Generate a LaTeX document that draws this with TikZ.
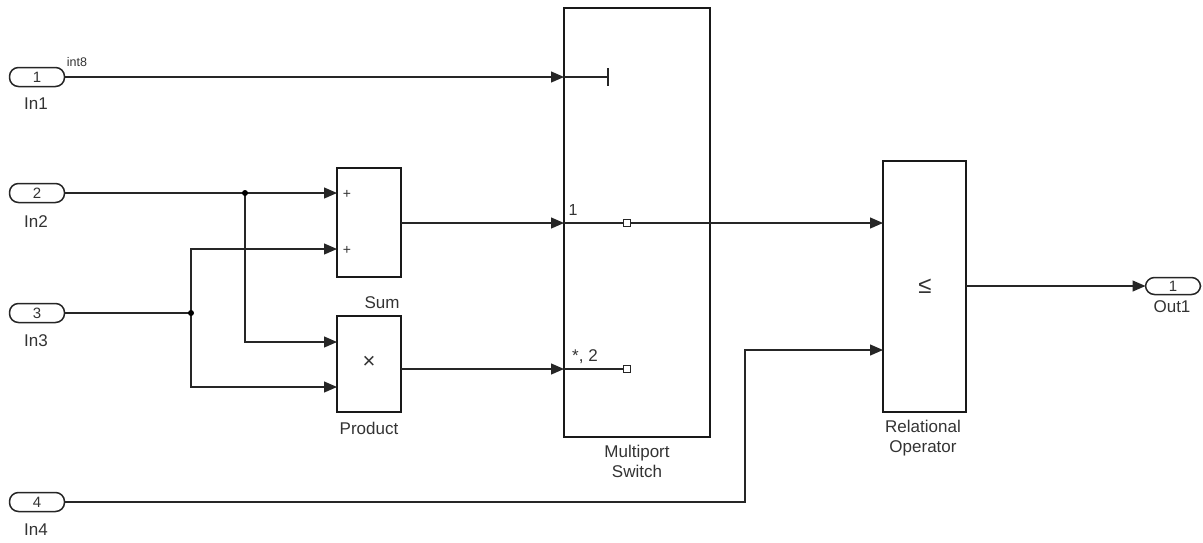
\documentclass[tikz,border=0pt]{standalone}
\usepackage{fontspec}
\setmainfont{Liberation Sans}
\usetikzlibrary{arrows.meta,calc}
\begin{document}
\begin{tikzpicture}[x=1pt,y=-1pt,
  every node/.style={inner sep=0pt,outer sep=0pt,text=black!80},
  port/.style={draw=black!85,line width=1.5pt,rounded corners=9pt,minimum width=55pt,minimum height=19pt,font=\fontsize{15}{15}\selectfont},
  blk/.style={draw=black!90,line width=1.8pt,fill=white},
  lbl/.style={font=\fontsize{17}{20}\selectfont,align=center},
  wire/.style={line width=1.3pt,draw=black!85},
  arr/.style={wire,-{Triangle[length=13pt,width=11pt]}},
  dot/.style={circle,fill=black,minimum size=6pt}
]
\useasboundingbox (0,0) rectangle (1203,542);
% ports
\node[port] (in1) at (37,77) {1};
\node[port] (in2) at (37,193) {2};
\node[port] (in3) at (37,313) {3};
\node[port] (in4) at (37,502) {4};
\node[port,minimum height=17pt] (out1) at (1173,286) {1};
\node[lbl] (in1l) at (36,104) {In1};
\node[lbl] (in2l) at (36,222) {In2};
\node[lbl] (in3l) at (36,341) {In3};
\node[lbl] (in4l) at (36,530) {In4};
\node[lbl] (out1l) at (1172,307) {Out1};
\node[font=\fontsize{12.5}{12.5}\selectfont] (int8) at (77,62) {int8};
% blocks
\node[blk,minimum width=64pt,minimum height=109pt] (sum) at (369,222.5) {};
\node[blk,minimum width=64pt,minimum height=96pt] (prod) at (369,364) {};
\node[blk,minimum width=146pt,minimum height=429pt] (sw) at (637,222.5) {};
\node[blk,minimum width=83pt,minimum height=251pt] (rel) at (924.5,286.5) {};
\node[lbl] (suml) at (382,303) {Sum};
\node[lbl] (prodl) at (369,428) {Product};
\node[lbl] (swl) at (637,461) {Multiport\\Switch};
\node[lbl] (rell) at (923,438) {Relational\\Operator};
\node[font=\fontsize{14}{14}\selectfont] (p1) at (347,194) {+};
\node[font=\fontsize{14}{14}\selectfont] (p2) at (347,250) {+};
\node[font=\fontsize{22}{22}\selectfont] (times) at (369,362) {×};
\node[font=\fontsize{24}{24}\selectfont] (le) at (925,286) {≤};
\node[font=\fontsize{16}{16}\selectfont] (s1) at (573,210) {1};
\node[font=\fontsize{17}{17}\selectfont] (s2) at (585,357) {*, 2};
% port coordinates
\coordinate (sumin1) at (sum.west |- in2.east);
\coordinate (sumin2) at (sum.west |- 0,249);
\coordinate (prodin1) at (prod.west |- 0,342);
\coordinate (prodin2) at (prod.west |- 0,387);
\coordinate (sumout) at (sum.east |- 0,223);
\coordinate (prodout) at (prod.east |- 0,369);
\coordinate (swc) at (sw.west |- in1.east);
\coordinate (sw1) at (sw.west |- sumout);
\coordinate (sw2) at (sw.west |- prodout);
\coordinate (relin1) at (rel.west |- sumout);
\coordinate (relin2) at (rel.west |- 0,350);
\coordinate (relout) at (rel.east |- out1.west);
\coordinate (b2) at (245,193);
\coordinate (b3) at (191,313);
\coordinate (k4) at (745,502);
\coordinate (tick) at (608,77);
\node[draw=black!85,line width=1.2pt,fill=white,minimum size=7pt] (sq1) at (627,223) {};
\node[draw=black!85,line width=1.2pt,fill=white,minimum size=7pt] (sq2) at (627,369) {};
% wires
\draw[arr] (in1.east) -- (swc);
\draw[arr] (in2.east) -- (sumin1);
\draw[arr] (b2) |- (prodin1);
\draw[wire] (in3.east) -- (b3);
\draw[arr] (b3) |- (sumin2);
\draw[arr] (b3) |- (prodin2);
\draw[arr] (sumout) -- (sw1);
\draw[arr] (prodout) -- (sw2);
\draw[wire] (swc) -- (tick);
\draw[line width=1.5pt,draw=black!85] ($(tick)+(0,-9)$) -- ($(tick)+(0,9)$);
\draw[wire] (sw1) -- (sq1.west);
\draw[wire] (sw2) -- (sq2.west);
\draw[arr] (sq1.east) -- (relin1);
\draw[arr] (in4.east) -- (k4) |- (relin2);
\draw[arr] (relout) -- (out1.west);
\node[dot] (d2) at (b2) {};
\node[dot] (d3) at (b3) {};
\end{tikzpicture}
\end{document}
